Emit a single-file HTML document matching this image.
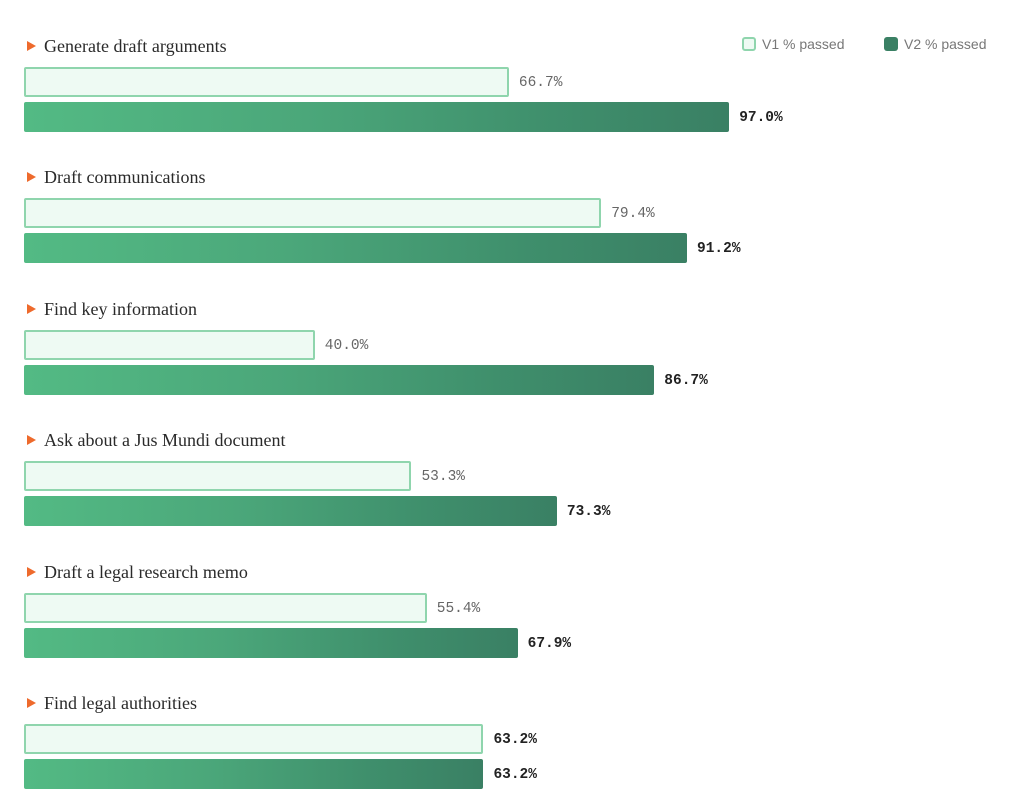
<!DOCTYPE html>
<html><head><style>
body{margin:0;width:1024px;height:807px;background:#fff;position:relative;overflow:hidden;font-family:"Liberation Sans",sans-serif}
.t{position:absolute;left:44px;font-family:"Liberation Serif",serif;font-size:18px;color:#2a2a2a}
.tri{position:absolute;left:27px;width:0;height:0;border-left:9px solid #ee6a2c;border-top:5px solid transparent;border-bottom:5px solid transparent}
.b1{position:absolute;left:24px;height:26px;background:#eefaf3;border:2px solid #8fd5ad;border-radius:2px}
.b2{position:absolute;left:24px;height:30px;background:linear-gradient(90deg,#53ba84,#4ba77a 40%,#3f8f6c 75%,#3a8064);border-radius:2px}
.l1,.l2{position:absolute;font-family:"Liberation Mono",monospace;font-size:14.5px}
.l1{color:#666}.l2{color:#222;font-weight:bold}
.lg{position:absolute;top:36px;font-size:14px;color:#777}
.sw{position:absolute;top:37px;width:14px;height:14px;border-radius:3px;box-sizing:border-box}
</style></head><body>
<div class="sw" style="left:742px;background:#eefaf3;border:2px solid #8fd5ad"></div><div class="lg" style="left:762px">V1 % passed</div>
<div class="sw" style="left:884px;background:#3a8064"></div><div class="lg" style="left:904px">V2 % passed</div>
<div id="c"></div>
<script>
var d=[["Generate draft arguments",66.7,97.0],["Draft communications",79.4,91.2],["Find key information",40.0,86.7],["Ask about a Jus Mundi document",53.3,73.3],["Draft a legal research memo",55.4,67.9],["Find legal authorities",63.2,63.2]];
var h="",s=7.27;
d.forEach(function(r,i){var y=Math.round(i*131.4);
var w1=r[1]*s,w2=r[2]*s;
var c1=(i==5)?"l2":"l1";
h+='<div class="tri" style="top:'+(y+41)+'px"></div><div class="t" style="top:'+(y+36)+'px">'+r[0]+'</div>';
h+='<div class="b1" style="top:'+(y+67)+'px;width:'+(w1-4)+'px"></div><div class="'+c1+'" style="top:'+(y+75)+'px;left:'+(24+w1+10)+'px">'+r[1].toFixed(1)+'%</div>';
h+='<div class="b2" style="top:'+(y+102)+'px;width:'+w2+'px"></div><div class="l2" style="top:'+(y+110)+'px;left:'+(24+w2+10)+'px">'+r[2].toFixed(1)+'%</div>';});
document.getElementById("c").innerHTML=h;
</script>
</body></html>
